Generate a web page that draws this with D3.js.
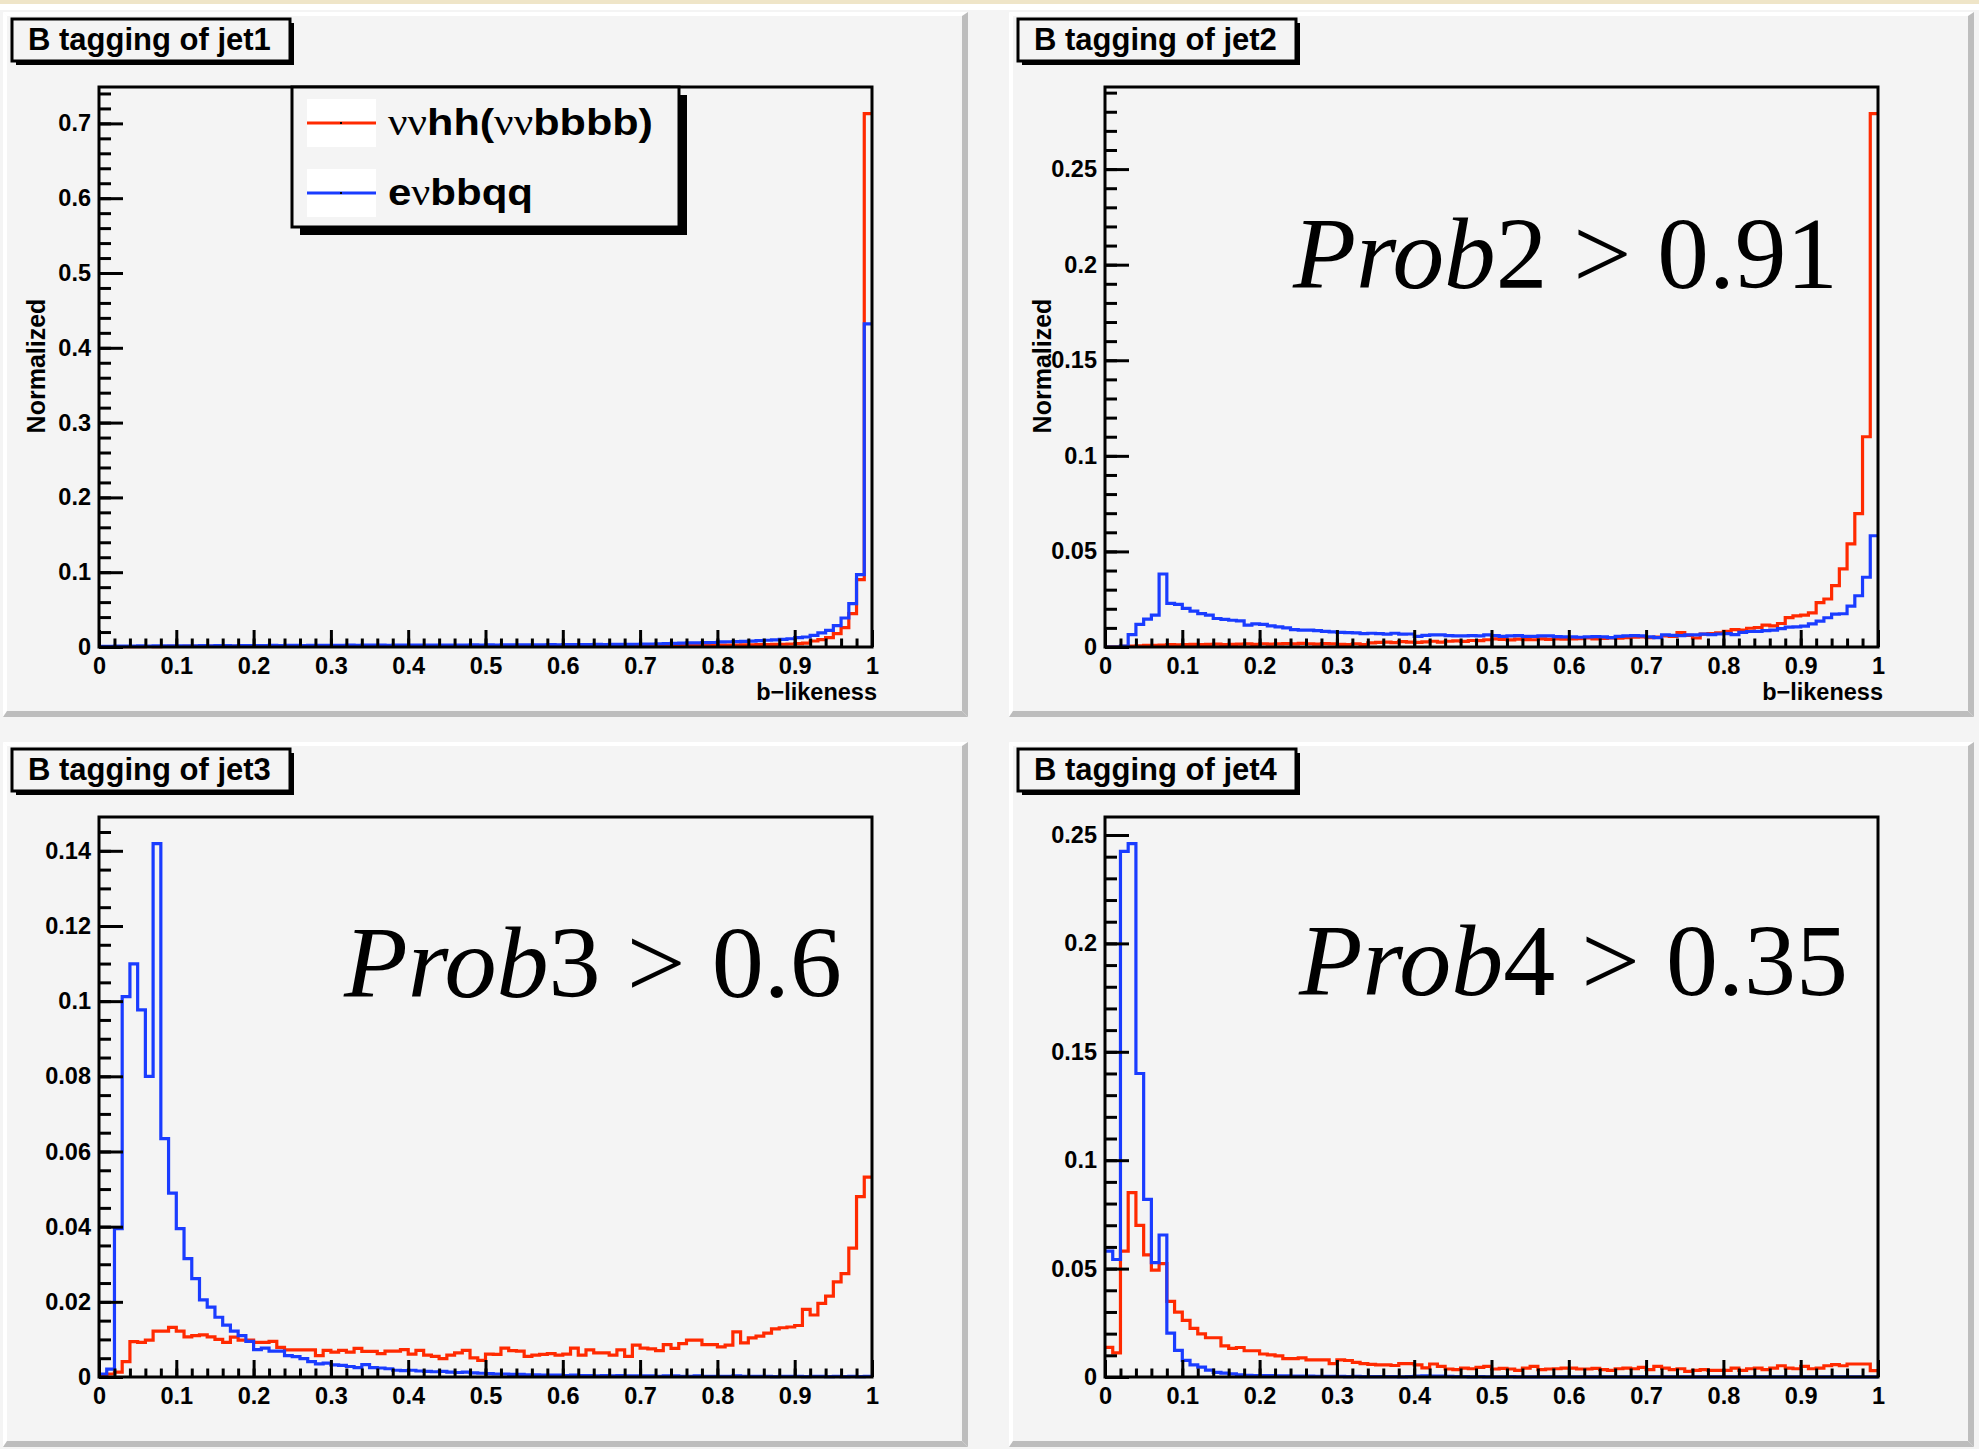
<!DOCTYPE html>
<html>
<head>
<meta charset="utf-8">
<script src="https://cdn.jsdelivr.net/npm/d3@7"></script>
<style>
  body { margin: 0; background: #f4f4f4; }
  svg { display: block; }
</style>
</head>
<body>
<svg id="canvas" width="1979" height="1449"></svg>
<script>
// ---- data (100 bins on [0,1], normalized) ----
var seriesNames = ["ννhh(ννbbbb)", "eνbbqq"];
var panelTitles = ["B tagging of jet1", "B tagging of jet2", "B tagging of jet3", "B tagging of jet4"];
var cutNames = ["", "Prob2", "Prob3", "Prob4"];
var cutValues = ["", "0.91", "0.6", "0.35"];

var xTicks = [0, 0.1, 0.2, 0.3, 0.4, 0.5, 0.6, 0.7, 0.8, 0.9, 1];
var yTicksJet1 = [0, 0.1, 0.2, 0.3, 0.4, 0.5, 0.6, 0.7];
var yTicksJet2 = [0, 0.05, 0.1, 0.15, 0.2, 0.25];
var yTicksJet3 = [0, 0.02, 0.04, 0.06, 0.08, 0.1, 0.12, 0.14];
var yTicksJet4 = [0, 0.05, 0.1, 0.15, 0.2, 0.25];

var jet1Signal = [
  0.0004, 0.0005, 0.0005, 0.0006, 0.0006, 0.0005, 0.0007, 0.0006, 0.0007, 0.0008,
  0.0007, 0.0008, 0.0008, 0.0007, 0.0009, 0.0008, 0.0009, 0.0008, 0.0009, 0.0010,
  0.0009, 0.0010, 0.0009, 0.0010, 0.0011, 0.0010, 0.0009, 0.0011, 0.0010, 0.0011,
  0.0010, 0.0011, 0.0012, 0.0010, 0.0011, 0.0012, 0.0011, 0.0012, 0.0011, 0.0012,
  0.0012, 0.0013, 0.0012, 0.0013, 0.0012, 0.0014, 0.0013, 0.0012, 0.0014, 0.0013,
  0.0014, 0.0013, 0.0015, 0.0014, 0.0015, 0.0014, 0.0016, 0.0015, 0.0014, 0.0016,
  0.0016, 0.0015, 0.0017, 0.0016, 0.0017, 0.0018, 0.0017, 0.0018, 0.0019, 0.0018,
  0.0019, 0.0020, 0.0019, 0.0021, 0.0020, 0.0022, 0.0023, 0.0022, 0.0024, 0.0025,
  0.0026, 0.0025, 0.0027, 0.0028, 0.0030, 0.0031, 0.0033, 0.0034, 0.0037, 0.0040,
  0.0045, 0.0053, 0.0080, 0.0098, 0.0125, 0.0180, 0.0260, 0.0446, 0.0900, 0.7130
];
var jet1Background = [
  0.0008, 0.0010, 0.0012, 0.0013, 0.0012, 0.0014, 0.0013, 0.0015, 0.0014, 0.0016,
  0.0015, 0.0017, 0.0016, 0.0018, 0.0017, 0.0019, 0.0018, 0.0017, 0.0019, 0.0020,
  0.0019, 0.0020, 0.0021, 0.0020, 0.0022, 0.0021, 0.0020, 0.0022, 0.0023, 0.0022,
  0.0023, 0.0022, 0.0024, 0.0023, 0.0024, 0.0025, 0.0024, 0.0023, 0.0025, 0.0024,
  0.0025, 0.0026, 0.0025, 0.0027, 0.0026, 0.0025, 0.0027, 0.0026, 0.0028, 0.0027,
  0.0028, 0.0027, 0.0029, 0.0028, 0.0030, 0.0029, 0.0028, 0.0030, 0.0031, 0.0030,
  0.0031, 0.0032, 0.0031, 0.0033, 0.0034, 0.0033, 0.0035, 0.0036, 0.0035, 0.0037,
  0.0038, 0.0040, 0.0042, 0.0045, 0.0048, 0.0052, 0.0054, 0.0056, 0.0058, 0.0060,
  0.0068, 0.0070, 0.0073, 0.0075, 0.0078, 0.0085, 0.0090, 0.0095, 0.0102, 0.0110,
  0.0125, 0.0134, 0.0156, 0.0190, 0.0223, 0.0286, 0.0388, 0.0580, 0.0967, 0.4320
];

var jet2Signal = [
  0.0000, 0.0000, 0.0003, 0.0005, 0.0006, 0.0008, 0.0009, 0.0010, 0.0012, 0.0011,
  0.0013, 0.0014, 0.0012, 0.0014, 0.0015, 0.0013, 0.0014, 0.0015, 0.0016, 0.0014,
  0.0017, 0.0015, 0.0016, 0.0018, 0.0016, 0.0019, 0.0017, 0.0015, 0.0018, 0.0016,
  0.0014, 0.0012, 0.0017, 0.0013, 0.0022, 0.0024, 0.0026, 0.0023, 0.0028, 0.0025,
  0.0024, 0.0027, 0.0030, 0.0026, 0.0030, 0.0032, 0.0029, 0.0034, 0.0033, 0.0038,
  0.0042, 0.0040, 0.0037, 0.0041, 0.0039, 0.0038, 0.0042, 0.0040, 0.0043, 0.0041,
  0.0042, 0.0044, 0.0047, 0.0043, 0.0045, 0.0048, 0.0046, 0.0049, 0.0051, 0.0053,
  0.0049, 0.0052, 0.0058, 0.0056, 0.0075, 0.0061, 0.0047, 0.0067, 0.0070, 0.0074,
  0.0082, 0.0091, 0.0088, 0.0098, 0.0102, 0.0114, 0.0111, 0.0123, 0.0154, 0.0163,
  0.0167, 0.0179, 0.0232, 0.0251, 0.0321, 0.0409, 0.0539, 0.0698, 0.1100, 0.2790
];
var jet2Background = [
  0.0000, 0.0000, 0.0005, 0.0065, 0.0118, 0.0146, 0.0167, 0.0382, 0.0228, 0.0223,
  0.0202, 0.0188, 0.0175, 0.0167, 0.0149, 0.0144, 0.0140, 0.0137, 0.0114, 0.0121,
  0.0118, 0.0110, 0.0105, 0.0100, 0.0091, 0.0088, 0.0088, 0.0086, 0.0082, 0.0079,
  0.0077, 0.0075, 0.0074, 0.0070, 0.0072, 0.0070, 0.0067, 0.0072, 0.0067, 0.0068,
  0.0056, 0.0061, 0.0063, 0.0063, 0.0060, 0.0058, 0.0058, 0.0060, 0.0058, 0.0063,
  0.0060, 0.0056, 0.0058, 0.0060, 0.0056, 0.0056, 0.0058, 0.0058, 0.0054, 0.0053,
  0.0053, 0.0051, 0.0053, 0.0054, 0.0053, 0.0049, 0.0056, 0.0058, 0.0060, 0.0058,
  0.0053, 0.0049, 0.0063, 0.0061, 0.0060, 0.0063, 0.0063, 0.0067, 0.0065, 0.0068,
  0.0070, 0.0065, 0.0077, 0.0081, 0.0082, 0.0086, 0.0088, 0.0096, 0.0104, 0.0105,
  0.0109, 0.0121, 0.0135, 0.0153, 0.0172, 0.0174, 0.0214, 0.0268, 0.0365, 0.0582
];

var jet3Signal = [
  0.0003, 0.0008, 0.0013, 0.0041, 0.0094, 0.0092, 0.0098, 0.0122, 0.0122, 0.0132,
  0.0122, 0.0107, 0.0110, 0.0112, 0.0107, 0.0100, 0.0092, 0.0106, 0.0098, 0.0098,
  0.0092, 0.0092, 0.0095, 0.0079, 0.0072, 0.0072, 0.0072, 0.0072, 0.0057, 0.0071,
  0.0066, 0.0071, 0.0066, 0.0076, 0.0068, 0.0068, 0.0062, 0.0069, 0.0069, 0.0073,
  0.0061, 0.0071, 0.0058, 0.0055, 0.0049, 0.0058, 0.0064, 0.0071, 0.0051, 0.0044,
  0.0061, 0.0060, 0.0077, 0.0070, 0.0069, 0.0055, 0.0058, 0.0060, 0.0062, 0.0058,
  0.0061, 0.0077, 0.0058, 0.0072, 0.0064, 0.0064, 0.0058, 0.0072, 0.0055, 0.0085,
  0.0077, 0.0075, 0.0070, 0.0086, 0.0076, 0.0089, 0.0098, 0.0098, 0.0086, 0.0086,
  0.0080, 0.0085, 0.0120, 0.0091, 0.0104, 0.0109, 0.0117, 0.0128, 0.0131, 0.0133,
  0.0137, 0.0180, 0.0165, 0.0196, 0.0215, 0.0253, 0.0275, 0.0343, 0.0480, 0.0532
];
var jet3Background = [
  0.0008, 0.0021, 0.0395, 0.1012, 0.1099, 0.0977, 0.0800, 0.1419, 0.0634, 0.0489,
  0.0395, 0.0315, 0.0262, 0.0205, 0.0186, 0.0159, 0.0138, 0.0122, 0.0110, 0.0095,
  0.0073, 0.0077, 0.0069, 0.0069, 0.0057, 0.0054, 0.0049, 0.0041, 0.0035, 0.0037,
  0.0032, 0.0031, 0.0028, 0.0025, 0.0033, 0.0025, 0.0024, 0.0022, 0.0018, 0.0017,
  0.0018, 0.0016, 0.0015, 0.0014, 0.0015, 0.0013, 0.0012, 0.0013, 0.0011, 0.0010,
  0.0009, 0.0008, 0.0008, 0.0007, 0.0007, 0.0006, 0.0006, 0.0005, 0.0005, 0.0005,
  0.0004, 0.0005, 0.0004, 0.0004, 0.0003, 0.0004, 0.0003, 0.0004, 0.0003, 0.0003,
  0.0003, 0.0003, 0.0002, 0.0003, 0.0003, 0.0002, 0.0002, 0.0003, 0.0002, 0.0002,
  0.0002, 0.0002, 0.0003, 0.0002, 0.0002, 0.0002, 0.0002, 0.0001, 0.0002, 0.0002,
  0.0002, 0.0001, 0.0002, 0.0002, 0.0001, 0.0002, 0.0001, 0.0002, 0.0001, 0.0002
];

var jet4Signal = [
  0.0137, 0.0111, 0.0581, 0.0850, 0.0699, 0.0563, 0.0493, 0.0523, 0.0349, 0.0299,
  0.0261, 0.0224, 0.0199, 0.0181, 0.0181, 0.0144, 0.0132, 0.0136, 0.0121, 0.0121,
  0.0106, 0.0102, 0.0097, 0.0085, 0.0085, 0.0088, 0.0079, 0.0079, 0.0079, 0.0062,
  0.0079, 0.0076, 0.0067, 0.0062, 0.0058, 0.0056, 0.0056, 0.0053, 0.0062, 0.0062,
  0.0056, 0.0042, 0.0060, 0.0049, 0.0037, 0.0034, 0.0041, 0.0038, 0.0044, 0.0049,
  0.0037, 0.0040, 0.0037, 0.0031, 0.0041, 0.0049, 0.0034, 0.0037, 0.0038, 0.0041,
  0.0041, 0.0037, 0.0037, 0.0040, 0.0034, 0.0031, 0.0038, 0.0041, 0.0038, 0.0044,
  0.0034, 0.0049, 0.0041, 0.0034, 0.0038, 0.0026, 0.0031, 0.0034, 0.0031, 0.0031,
  0.0031, 0.0041, 0.0031, 0.0038, 0.0041, 0.0034, 0.0041, 0.0052, 0.0041, 0.0038,
  0.0049, 0.0038, 0.0041, 0.0052, 0.0057, 0.0052, 0.0060, 0.0060, 0.0060, 0.0029
];
var jet4Background = [
  0.0581, 0.0542, 0.2424, 0.2460, 0.1400, 0.0819, 0.0528, 0.0655, 0.0202, 0.0123,
  0.0077, 0.0056, 0.0046, 0.0032, 0.0021, 0.0018, 0.0014, 0.0010, 0.0008, 0.0007,
  0.0006, 0.0006, 0.0005, 0.0005, 0.0004, 0.0004, 0.0004, 0.0003, 0.0003, 0.0003,
  0.0003, 0.0002, 0.0003, 0.0002, 0.0002, 0.0002, 0.0002, 0.0002, 0.0001, 0.0002,
  0.0004, 0.0005, 0.0004, 0.0004, 0.0003, 0.0002, 0.0002, 0.0001, 0.0002, 0.0001,
  0.0001, 0.0001, 0.0002, 0.0001, 0.0001, 0.0001, 0.0001, 0.0001, 0.0001, 0.0001,
  0.0001, 0.0001, 0.0001, 0.0001, 0.0001, 0.0001, 0.0001, 0.0001, 0.0001, 0.0001,
  0.0001, 0.0001, 0.0001, 0.0001, 0.0001, 0.0001, 0.0001, 0.0001, 0.0001, 0.0001,
  0.0001, 0.0001, 0.0001, 0.0001, 0.0001, 0.0001, 0.0001, 0.0001, 0.0001, 0.0001,
  0.0001, 0.0001, 0.0001, 0.0001, 0.0001, 0.0001, 0.0001, 0.0001, 0.0001, 0.0001
];

// ---- style / layout ----
var RED = "#ff2a00", BLUE = "#1a3cff";
var SANS = "'Liberation Sans', Arial, Helvetica, sans-serif";
var SERIF = "'Liberation Serif', 'Times New Roman', serif";

var frame = { left: 99, right: 872, top: 87, bottom: 647 };

var panels = [
  { dx: 0,    dy: 0,   title: panelTitles[0], sig: jet1Signal, bkg: jet1Background, yTicks: yTicksJet1, yMinor: 0.02,  axisTitles: true,  legend: true,  cut: 0 },
  { dx: 1006, dy: 0,   title: panelTitles[1], sig: jet2Signal, bkg: jet2Background, yTicks: yTicksJet2, yMinor: 0.01,  axisTitles: true,  legend: false, cut: 1, cutRight: 1838 - 1006, cutBase: 288, cutLen: 545 },
  { dx: 0,    dy: 730, title: panelTitles[2], sig: jet3Signal, bkg: jet3Background, yTicks: yTicksJet3, yMinor: 0.005, axisTitles: false, legend: false, cut: 2, cutRight: 842, cutBase: 267, cutLen: 498 },
  { dx: 1006, dy: 730, title: panelTitles[3], sig: jet4Signal, bkg: jet4Background, yTicks: yTicksJet4, yMinor: 0.01,  axisTitles: false, legend: false, cut: 3, cutRight: 1848 - 1006, cutBase: 265, cutLen: 549 }
];

var svg = d3.select("#canvas");

// canvas background and top strip
svg.append("rect").attr("width", 1979).attr("height", 1449).attr("fill", "#f4f4f4");
svg.append("rect").attr("width", 1979).attr("height", 4).attr("fill", "#efe5c8");
svg.append("rect").attr("y", 4).attr("width", 1979).attr("height", 6).attr("fill", "#ffffff");

panels.forEach(drawPanel);

function drawPanel(p) {
  var g = svg.append("g").attr("transform", "translate(" + p.dx + "," + p.dy + ")");

  // pad with bevelled border
  var L = 3, T = 12, R = 968, B = 717;
  g.append("rect").attr("x", L).attr("y", T).attr("width", R - L).attr("height", B - T).attr("fill", "#f4f4f4");
  g.append("polygon").attr("points", [[L, T], [R, T], [R - 4, T + 4], [L + 4, T + 4]].join(" ")).attr("fill", "#ffffff");
  g.append("polygon").attr("points", [[L, T], [L + 4, T + 4], [L + 4, B - 6], [L, B]].join(" ")).attr("fill", "#ffffff");
  g.append("polygon").attr("points", [[R, T], [R, B], [R - 6, B - 6], [R - 6, T + 4]].join(" ")).attr("fill", "#bdbdbd");
  g.append("polygon").attr("points", [[L, B], [R, B], [R - 6, B - 6], [L + 4, B - 6]].join(" ")).attr("fill", "#bdbdbd");

  var x = d3.scaleLinear().domain([0, 1]).range([frame.left, frame.right]);
  var ymax = 1.05 * d3.max(p.sig.concat(p.bkg));
  var y = d3.scaleLinear().domain([0, ymax]).range([frame.bottom, frame.top]);

  var step = d3.line()
    .x(function (d) { return x(d[0]); })
    .y(function (d) { return y(d[1]); })
    .curve(d3.curveStepAfter);

  function binPoints(vals) {
    var n = vals.length;
    var pts = vals.map(function (v, i) { return [i / n, v]; });
    pts.push([1, vals[n - 1]]);
    return pts;
  }

  [[p.sig, RED], [p.bkg, BLUE]].forEach(function (s) {
    g.append("path")
      .attr("d", step(binPoints(s[0])))
      .attr("fill", "none")
      .attr("stroke", s[1])
      .attr("stroke-width", 3.2)
      .attr("stroke-linejoin", "miter");
  });

  // axes: major + minor ticks drawn inward
  function styleAxis(a) {
    a.select(".domain").remove();
    a.selectAll("line").attr("stroke", "#000").attr("stroke-width", 3);
    a.selectAll("text")
      .attr("fill", "#000")
      .style("font-family", SANS)
      .style("font-weight", "bold")
      .style("font-size", "23.5px");
  }

  var yMinorVals = d3.range(0, ymax, p.yMinor);
  var xMinorVals = d3.range(0, 1.0001, 0.02);

  g.append("g").attr("transform", "translate(" + frame.left + ",0)")
    .call(d3.axisLeft(y).tickValues(yMinorVals).tickSize(-12).tickFormat(""))
    .call(styleAxis);
  g.append("g").attr("transform", "translate(" + frame.left + ",0)")
    .call(d3.axisLeft(y).tickValues(p.yTicks).tickSize(-24).tickPadding(8).tickFormat(d3.format("~g")))
    .call(styleAxis);
  g.append("g").attr("transform", "translate(0," + frame.bottom + ")")
    .call(d3.axisBottom(x).tickValues(xMinorVals).tickSize(-8.5).tickFormat(""))
    .call(styleAxis);
  g.append("g").attr("transform", "translate(0," + frame.bottom + ")")
    .call(d3.axisBottom(x).tickValues(xTicks).tickSize(-17).tickPadding(10).tickFormat(d3.format("~g")))
    .call(styleAxis);

  // frame
  g.append("rect")
    .attr("x", frame.left).attr("y", frame.top)
    .attr("width", frame.right - frame.left).attr("height", frame.bottom - frame.top)
    .attr("fill", "none").attr("stroke", "#000").attr("stroke-width", 3);

  // axis titles
  if (p.axisTitles) {
    g.append("text")
      .attr("x", 877).attr("y", 700)
      .attr("text-anchor", "end")
      .style("font-family", SANS).style("font-weight", "bold").style("font-size", "23.5px")
      .text("b\u2212likeness");
    g.append("text")
      .attr("transform", "translate(45," + ((frame.top + frame.bottom) / 2 - 1) + ") rotate(-90)")
      .attr("text-anchor", "middle")
      .style("font-family", SANS).style("font-weight", "bold").style("font-size", "25px")
      .text("Normalized");
  }

  // title box with shadow
  g.append("rect").attr("x", 16).attr("y", 23).attr("width", 278).attr("height", 42).attr("fill", "#000");
  g.append("rect").attr("x", 12).attr("y", 19).attr("width", 278).attr("height", 42)
    .attr("fill", "#f4f4f4").attr("stroke", "#000").attr("stroke-width", 3);
  g.append("text")
    .attr("x", 28).attr("y", 50)
    .style("font-family", SANS).style("font-weight", "bold").style("font-size", "31px")
    .text(p.title);

  // cut annotation
  if (p.cut > 0) {
    var t = g.append("text")
      .attr("x", p.cutRight).attr("y", p.cutBase)
      .attr("text-anchor", "end")
      .attr("textLength", p.cutLen)
      .attr("lengthAdjust", "spacingAndGlyphs")
      .style("font-family", SERIF).style("font-size", "102px");
    t.append("tspan").style("font-style", "italic").text(cutNames[p.cut].slice(0, 4));
    t.append("tspan").text(cutNames[p.cut].slice(4) + " > " + cutValues[p.cut]);
  }

  if (p.legend) drawLegend(g);
}

function drawLegend(g) {
  var lx = 292, ly = 87, lw = 387, lh = 140;
  g.append("rect").attr("x", lx + 8).attr("y", ly + 8).attr("width", lw).attr("height", lh).attr("fill", "#000");
  g.append("rect").attr("x", lx).attr("y", ly).attr("width", lw).attr("height", lh)
    .attr("fill", "#f4f4f4").attr("stroke", "#000").attr("stroke-width", 3);

  var entries = [
    { color: RED, lineY: 123, parts: [["νν", false], ["hh(", true], ["νν", false], ["bbbb)", true]], len: 265 },
    { color: BLUE, lineY: 193, parts: [["e", true], ["ν", false], ["bbqq", true]], len: 145 }
  ];
  entries.forEach(function (e, i) {
    g.append("rect").attr("x", 307).attr("y", e.lineY - 24).attr("width", 69).attr("height", 48).attr("fill", "#ffffff");
    g.append("line").attr("x1", 307).attr("x2", 376).attr("y1", e.lineY).attr("y2", e.lineY)
      .attr("stroke", e.color).attr("stroke-width", 3);
    g.append("rect").attr("x", 340).attr("y", e.lineY - 1).attr("width", 2).attr("height", 2).attr("fill", "#000");
    var t = g.append("text")
      .attr("x", 388).attr("y", e.lineY + 12)
      .attr("textLength", e.len)
      .attr("lengthAdjust", "spacingAndGlyphs")
      .style("font-size", "37px");
    e.parts.forEach(function (part) {
      t.append("tspan")
        .style("font-family", part[1] ? SANS : SERIF)
        .style("font-weight", part[1] ? "bold" : "normal")
        .text(part[0]);
    });
    t.attr("data-series", seriesNames[i]);
  });
}
</script>
